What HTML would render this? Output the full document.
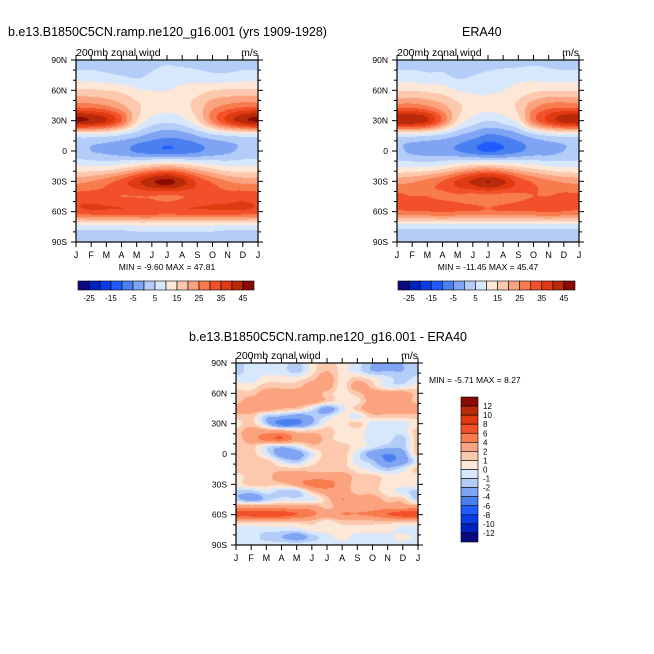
<!DOCTYPE html>
<html><head><meta charset="utf-8">
<style>
body{margin:0;background:#fff;width:654px;height:654px;overflow:hidden;position:relative;font-family:"Liberation Sans",sans-serif;}
.t{position:absolute;white-space:nowrap;color:#000;}
canvas{position:absolute;}
svg{position:absolute;left:0;top:0;}
</style></head><body>
<div class="t" style="left:8px;top:25px;font-size:12.5px;">b.e13.B1850C5CN.ramp.ne120_g16.001 (yrs 1909-1928)</div>
<div class="t" style="left:462px;top:25px;font-size:12.5px;">ERA40</div>
<div class="t" style="left:189px;top:330px;font-size:12.5px;">b.e13.B1850C5CN.ramp.ne120_g16.001 - ERA40</div>
<canvas id="c1" width="182" height="182" style="left:76px;top:60px"></canvas>
<canvas id="c2" width="182" height="182" style="left:397px;top:60px"></canvas>
<canvas id="c3" width="182" height="182" style="left:236px;top:363px"></canvas>
<svg id="ov" width="654" height="654"></svg>
<script>
const months=["J","F","M","A","M","J","J","A","S","O","N","D","J"];
const latLabels=["90N","60N","30N","0","30S","60S","90S"];
const palette=["#0a0a80","#0020c0","#0a3be8","#1e5cff","#4a7ff0","#7fa4f4","#b4ccf8","#d8e8fc","#fde7d7","#fcc8ae","#fba37e","#f87b4e","#f2502a","#e03a10","#b82a0a","#8a0a05"];
const levelsMain=[-25,-20,-15,-10,-5,0,5,10,15,20,25,30,35,40,45];
const levelsDiff=[-12,-10,-8,-6,-4,-2,-1,0,1,2,4,6,8,10,12];
const mainLabels=["-25","-15","-5","5","15","25","35","45"];
const diffLabels=["12","10","8","6","4","2","1","0","-1","-2","-4","-6","-8","-10","-12"];
// rows 90N..90S (15 deg), cols Jan..Jan
const modelData=[
[3,3,3,3,2,3,4,3,3,3,3,3,3],
[7,7,6,5,4,6,8,8,7,6,6,7,7],
[16,16,15,14,11,10,10,11,13,15,16,16,16],
[28,27,25,21,16,13,12,13,17,23,26,28,28],
[46,44,40,30,15,8,6,8,14,26,36,43,46],
[7,7,6,4,1,-2,-4,-3,0,3,5,6,7],
[2,0,-1,-3,-6,-8,-9,-8,-6,-3,-1,1,2],
[10,10,10,12,15,18,20,18,15,12,10,10,10],
[23,25,28,32,38,44,47,42,34,29,25,23,23],
[32,32,31,30,30,30,29,30,31,32,32,33,32],
[33,34,34,34,34,34,33,34,34,34,34,34,33],
[8,8,8,8,9,9,9,9,9,9,8,8,8],
[2,2,2,2,2,2,2,2,2,2,2,2,2]];
const eraData=[
[3,3,3,3,3,3,3,3,3,4,4,3,3],
[7,7,6,6,4,5,6,7,8,8,7,7,7],
[15,15,14,13,10,9,9,10,12,14,15,15,15],
[27,27,25,21,16,13,12,13,16,23,27,28,27],
[44,44,40,28,14,8,5,7,12,27,36,42,44],
[6,6,5,3,0,-3,-6,-5,-2,2,5,6,6],
[1,-1,-2,-3,-5,-8,-11,-9,-6,-3,-2,0,1],
[9,9,9,11,14,17,18,16,14,12,10,9,9],
[23,24,27,30,36,41,45,41,33,29,26,24,23],
[31,30,30,29,29,28,28,28,29,30,30,31,31],
[29,30,30,31,30,30,29,30,30,30,31,30,29],
[7,7,7,7,7,7,7,7,7,7,7,7,7],
[2,2,2,2,2,2,2,2,2,2,2,2,2]];
// rows 90N..90S (7.5 deg)
const diffData=[
[-1.5,-0.5,-0.5,-0.5,-1.5,0.5,1.5,0.5,-0.5,-2,-2,-2,-1.5],
[-1.5,-0.5,-0.5,-0.5,-1.5,0.5,2,0.5,-0.5,-2,-2,-2,-1.5],
[-0.5,-0.5,0.5,0.5,0.5,1.5,3,0.5,1.5,0.5,-0.5,-1.5,-0.5],
[0.5,0.5,1.5,1.5,1.5,3,3,0.5,3,1.5,-0.5,-0.5,0.5],
[1.5,1.5,3,3,3,3,1.5,0.5,1.5,3,3,3,1.5],
[1.5,3,3,3,3,3,1.5,0.5,0.5,3,3,3,1.5],
[3,3,3,2,1.5,-0.5,-3,-0.5,1.5,3,3,3,3],
[1.5,1.5,-1.5,-2,-3,-2,-1,0.5,-0.5,1.5,1.5,1.5,1.5],
[0.5,1.5,-1.5,-5,-4.5,-2,0.5,0.5,1.5,-0.5,-0.5,-0.5,0.5],
[1.5,3,3,3,1.5,1.5,1.5,0.5,0.5,-0.5,-0.5,-0.5,1.5],
[1.5,3,5,6,3,3,1.5,0.5,0.5,-0.5,-0.5,-1.5,1.5],
[1.5,1.5,-0.5,-1.5,-0.5,1.5,1.5,1.5,0.5,-0.5,-1.5,-1.5,1.5],
[1.5,1.5,-0.5,-3,-3,-0.5,1.5,1.5,-0.5,-3,-4,-3,1.5],
[1.5,1.5,1.5,-0.5,-1.5,0.5,1.5,1.5,-0.5,-1.5,-4,-3,-0.5],
[1.5,1.5,1.5,1.5,1.5,1.5,1.5,1.5,0.5,-0.5,-1.5,-0.5,1.5],
[0.5,1.5,1.5,3,3,3,3,3,1.5,1.5,0.5,0.5,0.5],
[0.5,1.5,1.5,1.5,3,5,5,3,1.5,1.5,0.5,0.5,0.5],
[-1.5,-1.5,-0.5,-1.5,-1.5,1.5,3,3,1.5,1.5,0.5,-0.5,-1.5],
[-1.5,-3,-1.5,-0.5,-0.5,-0.5,1.5,4,3,3,1.5,1.5,-1.5],
[3,3,3,3,3,3,1.5,3,3,3,3,3,3],
[7,7,7.5,7,6,4.5,3,4,4,4.5,6,7,7],
[1.5,1.5,1.5,1.5,1.5,1.5,0.5,1.5,1.5,1.5,1.5,1.5,1.5],
[-0.5,-0.5,-0.5,-0.5,-0.5,0.5,0.5,0.5,0.5,0.5,0.5,-0.5,-0.5],
[-0.5,-0.5,-1.5,-2,-3,-1.5,-0.5,0.5,-0.5,-0.5,-0.5,0.5,-0.5],
[-0.5,-0.5,-0.5,-0.5,-0.5,-0.5,-0.5,-0.5,-0.5,-0.5,-0.5,-0.5,-0.5]];

function hex(c){return [parseInt(c.substr(1,2),16),parseInt(c.substr(3,2),16),parseInt(c.substr(5,2),16)];}
const pal=palette.map(hex);
function cr(p0,p1,p2,p3,t){return 0.5*((2*p1)+(-p0+p2)*t+(2*p0-5*p1+4*p2-p3)*t*t+(-p0+3*p1-3*p2+p3)*t*t*t);}
function sample(g,r,c){
  const R=g.length,C=g[0].length;
  const ri=Math.min(Math.floor(r),R-2),ci=Math.min(Math.floor(c),C-2);
  const tr=r-ri,tc=c-ci;
  const row=k=>{const rr=Math.max(0,Math.min(R-1,k));const a=g[rr];
    const gc=j=>a[Math.max(0,Math.min(C-1,j))];
    return cr(gc(ci-1),gc(ci),gc(ci+1),gc(ci+2),tc);};
  return cr(row(ri-1),row(ri),row(ri+1),row(ri+2),tr);
}
function draw(id,g,levels){
  const cv=document.getElementById(id),ctx=cv.getContext('2d');
  const W=cv.width,H=cv.height,img=ctx.createImageData(W,H);
  const R=g.length,C=g[0].length;
  for(let y=0;y<H;y++)for(let x=0;x<W;x++){
    const v=sample(g,y/(H-1)*(R-1),x/(W-1)*(C-1));
    let k=0;while(k<levels.length&&v>levels[k])k++;
    const p=pal[k],o=(y*W+x)*4;
    img.data[o]=p[0];img.data[o+1]=p[1];img.data[o+2]=p[2];img.data[o+3]=255;
  }
  ctx.putImageData(img,0,0);
}
draw('c1',modelData,levelsMain);
draw('c2',eraData,levelsMain);
draw('c3',diffData,levelsDiff);

const NS='http://www.w3.org/2000/svg',ov=document.getElementById('ov');
function el(tag,attrs,txt){const e=document.createElementNS(NS,tag);for(const k in attrs)e.setAttribute(k,attrs[k]);if(txt!==undefined)e.textContent=txt;ov.appendChild(e);return e;}
function axes(x0,y0,w,h,prefix){
  const f=el('rect',{x:x0,y:y0,width:w,height:h,fill:'none',stroke:'#000','stroke-width':1.2});
  
  
  for(let i=0;i<=18;i++){
    const y=y0+h*i/18,len=(i%3==0)?5:3;
    el('line',{x1:x0-len,y1:y,x2:x0,y2:y,stroke:'#000','stroke-width':1});
    el('line',{x1:x0+w,y1:y,x2:x0+w+len,y2:y,stroke:'#000','stroke-width':1});
  }
  latLabels.forEach((l,i)=>{
    const t=el('text',{x:x0-9,y:y0+h*i/6+3,'font-size':8.5,'text-anchor':'end','font-family':'Liberation Sans, sans-serif'},l);
    
    
  });
  months.forEach((m,i)=>{
    const x=x0+w*i/12;
    el('line',{x1:x,y1:y0+h,x2:x,y2:y0+h+5,stroke:'#000','stroke-width':1});
    el('line',{x1:x,y1:y0-5,x2:x,y2:y0,stroke:'#000','stroke-width':1});
    const t=el('text',{x:x,y:y0+h+16,'font-size':9,'text-anchor':'middle','font-family':'Liberation Sans, sans-serif'},m);
    
    
  });
  const a=el('text',{x:x0,y:y0-4,'font-size':10.5,'font-family':'Liberation Sans, sans-serif'},'200mb zonal wind');
  
  
  const b=el('text',{x:x0+w,y:y0-4,'font-size':10.5,'text-anchor':'end','font-family':'Liberation Sans, sans-serif'},'m/s');
  
  
}
axes(76,60,182,182,'model');
axes(397,60,182,182,'era40');
axes(236,363,182,182,'diff');
function minmax(x,y,txt,anchor,name){
  const t=el('text',{x:x,y:y,'font-size':8.5,'text-anchor':anchor,'font-family':'Liberation Sans, sans-serif'},txt);
  
  
}
minmax(167,270,'MIN =  -9.60 MAX =  47.81','middle','model-min-max');
minmax(488,270,'MIN = -11.45 MAX =  45.47','middle','era40-min-max');
minmax(429,383,'MIN =  -5.71 MAX =   8.27','start','diff-min-max');
function hbar(x0,y0,w,h,prefix){
  const bw=w/16;
  for(let i=0;i<16;i++){
    const r=el('rect',{x:x0+i*bw,y:y0,width:bw,height:h,fill:palette[i],stroke:'#000','stroke-width':0.6});
    
    
  }
  mainLabels.forEach((l,i)=>{
    const t=el('text',{x:x0+bw*(1+2*i),y:y0+h+11,'font-size':8,'text-anchor':'middle','font-family':'Liberation Sans, sans-serif'},l);
    
    
  });
}
hbar(78,281,176,9,'model');
hbar(398,281,177,9,'era40');
(function(){
  const x0=461,y0=397,w=17,h=145,bh=h/16;
  for(let i=0;i<16;i++){
    const r=el('rect',{x:x0,y:y0+i*bh,width:w,height:bh,fill:palette[15-i],stroke:'#000','stroke-width':0.6});
    
    
  }
  diffLabels.forEach((l,i)=>{
    const t=el('text',{x:x0+w+5,y:y0+bh*(i+1)+3,'font-size':8,'font-family':'Liberation Sans, sans-serif'},l);
    
    
  });
})();
</script>
</body></html>
